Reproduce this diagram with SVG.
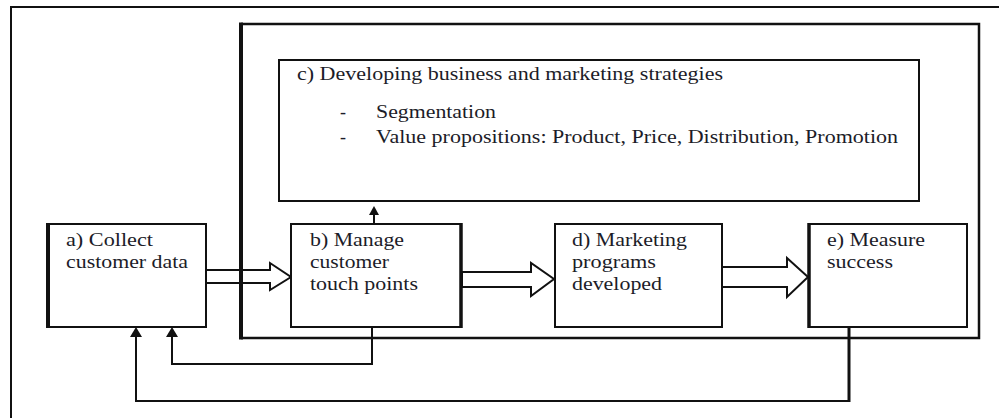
<svg xmlns="http://www.w3.org/2000/svg" width="999" height="418" viewBox="0 0 999 418">
<style>
.t{font-family:"Liberation Serif","Times New Roman",serif;font-size:18px;fill:#1c1c28}
.box{fill:#fff;stroke:#111;stroke-width:2}
.thick{stroke:#111;stroke-width:4;fill:none}
.blk{fill:#fff;stroke:#111;stroke-width:2;stroke-linejoin:miter}
.ln{fill:none;stroke:#111;stroke-width:2}
.hd{fill:#111}
</style>
<rect width="999" height="418" fill="#fff"/>
<g id="outer-frame">
<polyline class="ln" points="11,420 11,7 1001,7"/>
</g>
<g id="node-c">
<rect class="box" x="279" y="60" width="640" height="141"/>
<text class="t" x="297" y="80" textLength="426" lengthAdjust="spacingAndGlyphs">c) Developing business and marketing strategies</text>
<text class="t" x="340" y="118">-</text>
<text class="t" x="376" y="118" textLength="120" lengthAdjust="spacingAndGlyphs">Segmentation</text>
<text class="t" x="340" y="143">-</text>
<text class="t" x="376" y="143" textLength="522" lengthAdjust="spacingAndGlyphs">Value propositions: Product, Price, Distribution, Promotion</text>
</g>
<g id="connectors">
<polygon class="blk" points="206,270 270,270 270,263 291,277 270,290 270,283 206,283"/>
<polygon class="blk" points="462,272 531,272 531,263 554,279 531,296 531,287 462,287"/>
<polygon class="blk" points="721,267 787,267 787,258 808,277 787,297 787,287 721,287"/>
<line class="ln" x1="374" y1="224" x2="374" y2="214"/>
<polygon class="hd" points="374,206 379,215 369,215"/>
<polyline class="ln" points="372,327 372,364 172,364 172,336"/>
<polygon class="hd" points="172,327 178,337 166,337"/>
<line stroke="#111" stroke-width="3" x1="849" y1="327" x2="849" y2="402"/>
<polyline class="ln" points="850,401 136,401 136,336"/>
<polygon class="hd" points="136,327 142,337 130,337"/>
</g>
<g id="inner-frame">
<polyline fill="none" stroke="#111" stroke-width="2.5" points="241,24 979,24 979,338 241,338"/>
<line class="thick" x1="241" y1="22.5" x2="241" y2="339.5"/>
</g>
<g id="node-a">
<rect class="box" x="47" y="224" width="159" height="103"/>
<line class="thick" x1="48" y1="223" x2="48" y2="328"/>
<text class="t" x="66" y="246" textLength="87" lengthAdjust="spacingAndGlyphs">a) Collect</text>
<text class="t" x="66" y="268" textLength="122" lengthAdjust="spacingAndGlyphs">customer data</text>
</g>
<g id="node-b">
<rect class="box" x="291" y="224" width="170" height="103"/>
<line stroke="#111" stroke-width="3.5" x1="461" y1="223" x2="461" y2="328"/>
<text class="t" x="310" y="246" textLength="94" lengthAdjust="spacingAndGlyphs">b) Manage</text>
<text class="t" x="310" y="268" textLength="79" lengthAdjust="spacingAndGlyphs">customer</text>
<text class="t" x="310" y="290" textLength="108" lengthAdjust="spacingAndGlyphs">touch points</text>
</g>
<g id="node-d">
<rect class="box" x="555" y="224" width="167" height="103"/>
<text class="t" x="572" y="246" textLength="115" lengthAdjust="spacingAndGlyphs">d) Marketing</text>
<text class="t" x="572" y="268" textLength="84" lengthAdjust="spacingAndGlyphs">programs</text>
<text class="t" x="572" y="290" textLength="90" lengthAdjust="spacingAndGlyphs">developed</text>
</g>
<g id="node-e">
<rect class="box" x="809" y="224" width="158" height="103"/>
<line stroke="#111" stroke-width="3.5" x1="809" y1="223" x2="809" y2="328"/>
<text class="t" x="827" y="246" textLength="98" lengthAdjust="spacingAndGlyphs">e) Measure</text>
<text class="t" x="827" y="268" textLength="66" lengthAdjust="spacingAndGlyphs">success</text>
</g>
</svg>
